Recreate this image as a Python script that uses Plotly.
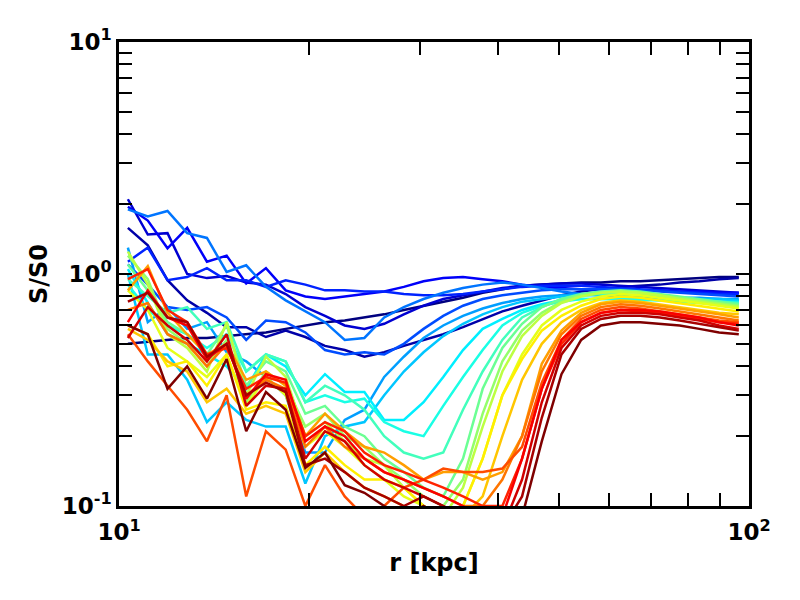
import plotly.graph_objects as go

# radius bins [kpc]
r_kpc = [10.33, 11.11, 11.94, 12.83, 13.79, 14.82, 15.92, 17.11, 18.39, 19.76,
         21.23, 22.82, 24.52, 26.36, 28.32, 30.44, 32.71, 35.16, 37.78, 40.60,
         43.63, 46.89, 50.39, 54.15, 58.20, 62.55, 67.21, 72.23, 77.62, 83.42,
         89.65, 96.34]

s00 = [0.50,0.51,0.52,0.53,0.53,0.54,0.55,0.56,0.58,0.60,0.62,0.63,0.65,0.67,0.70,0.73,0.76,0.79,0.83,0.86,0.89,0.90,0.91,0.92,0.92,0.93,0.93,0.94,0.95,0.96,0.97,0.97]
s01 = [1.58,1.33,0.94,0.77,0.68,0.59,0.59,0.535,0.57,0.535,0.49,0.47,0.44,0.46,0.49,0.52,0.55,0.59,0.64,0.69,0.73,0.77,0.81,0.84,0.86,0.88,0.89,0.90,0.92,0.93,0.95,0.96]
s02 = [2.10,1.48,1.50,1.00,0.96,0.98,0.92,0.90,0.82,0.72,0.66,0.60,0.58,0.61,0.67,0.73,0.78,0.81,0.84,0.87,0.89,0.90,0.91,0.91,0.90,0.89,0.88,0.87,0.86,0.85,0.84,0.83]
s03 = [1.95,1.70,1.29,1.58,1.13,1.20,0.91,1.06,0.85,0.80,0.78,0.80,0.82,0.84,0.88,0.93,0.96,0.97,0.95,0.93,0.90,0.88,0.87,0.86,0.86,0.85,0.85,0.85,0.84,0.84,0.83,0.83]
s04 = [1.13,1.30,0.94,0.97,1.06,0.94,0.94,0.88,0.94,0.90,0.85,0.85,0.84,0.84,0.82,0.81,0.81,0.82,0.84,0.86,0.88,0.89,0.89,0.89,0.88,0.87,0.86,0.85,0.84,0.83,0.82,0.82]
s05 = [1.10,0.90,0.72,0.70,0.72,0.65,0.52,0.63,0.62,0.56,0.47,0.45,0.46,0.45,0.50,0.58,0.66,0.73,0.78,0.81,0.83,0.85,0.86,0.86,0.86,0.86,0.85,0.84,0.83,0.82,0.81,0.80]
s06 = [1.90,1.77,1.87,1.50,1.43,1.02,1.09,0.88,0.77,0.69,0.62,0.52,0.53,0.65,0.72,0.78,0.83,0.87,0.90,0.92,0.90,0.87,0.84,0.82,0.81,0.80,0.80,0.79,0.79,0.78,0.78,0.77]
s07 = [1.30,0.62,0.72,0.58,0.62,0.46,0.42,0.36,0.30,0.17,0.17,0.235,0.26,0.36,0.44,0.53,0.60,0.66,0.71,0.75,0.78,0.80,0.81,0.82,0.82,0.81,0.81,0.80,0.79,0.79,0.78,0.78]
s08 = [1.00,0.45,0.45,0.35,0.23,0.28,0.235,0.22,0.22,0.125,0.20,0.22,0.23,0.30,0.38,0.46,0.54,0.61,0.67,0.72,0.76,0.78,0.80,0.81,0.81,0.81,0.80,0.79,0.79,0.78,0.78,0.77]
s09 = [1.05,0.75,0.55,0.50,0.45,0.40,0.32,0.45,0.40,0.30,0.37,0.31,0.31,0.235,0.235,0.28,0.36,0.47,0.58,0.64,0.70,0.74,0.77,0.78,0.78,0.78,0.78,0.77,0.77,0.76,0.76,0.76]
s10 = [0.90,0.70,0.60,0.55,0.48,0.55,0.38,0.45,0.42,0.28,0.30,0.28,0.29,0.23,0.21,0.20,0.27,0.36,0.47,0.60,0.68,0.73,0.76,0.78,0.78,0.78,0.77,0.77,0.76,0.75,0.75,0.74]
s11 = [0.95,0.80,0.68,0.72,0.58,0.62,0.38,0.45,0.42,0.28,0.33,0.30,0.26,0.20,0.17,0.16,0.17,0.26,0.38,0.52,0.65,0.72,0.78,0.81,0.82,0.82,0.81,0.80,0.79,0.77,0.76,0.75]
s12 = [1.10,0.85,0.62,0.55,0.45,0.60,0.33,0.42,0.38,0.25,0.27,0.22,0.20,0.16,0.14,0.12,0.11,0.16,0.32,0.48,0.61,0.72,0.78,0.82,0.84,0.85,0.84,0.82,0.80,0.78,0.76,0.74]
s13 = [1.20,0.95,0.58,0.50,0.40,0.52,0.28,0.38,0.33,0.22,0.25,0.20,0.18,0.15,0.13,0.11,0.10,0.13,0.25,0.42,0.57,0.68,0.76,0.81,0.83,0.84,0.83,0.81,0.79,0.77,0.75,0.73]
s14 = [1.25,0.90,0.55,0.48,0.38,0.62,0.30,0.44,0.36,0.20,0.23,0.19,0.16,0.15,0.12,0.10,0.09,0.12,0.22,0.38,0.54,0.66,0.75,0.80,0.83,0.84,0.83,0.81,0.78,0.76,0.74,0.72]
s15 = [0.85,0.70,0.48,0.42,0.36,0.45,0.27,0.36,0.30,0.18,0.21,0.18,0.15,0.13,0.11,0.10,0.09,0.10,0.16,0.30,0.45,0.60,0.70,0.76,0.80,0.82,0.81,0.79,0.77,0.75,0.73,0.71]
s16 = [0.60,0.55,0.40,0.42,0.33,0.45,0.26,0.28,0.27,0.15,0.18,0.15,0.13,0.13,0.12,0.10,0.09,0.10,0.16,0.30,0.43,0.57,0.66,0.73,0.78,0.80,0.79,0.77,0.75,0.73,0.71,0.69]
s17 = [0.58,0.52,0.42,0.38,0.28,0.32,0.25,0.27,0.25,0.14,0.17,0.14,0.12,0.11,0.10,0.09,0.08,0.09,0.11,0.20,0.35,0.50,0.62,0.70,0.75,0.77,0.76,0.74,0.72,0.70,0.68,0.67]
s18 = [0.85,1.08,0.68,0.55,0.45,0.50,0.35,0.38,0.33,0.20,0.25,0.21,0.18,0.17,0.15,0.13,0.14,0.14,0.13,0.14,0.20,0.41,0.57,0.68,0.74,0.76,0.75,0.73,0.71,0.69,0.67,0.65]
s19 = [0.70,0.75,0.55,0.50,0.40,0.50,0.30,0.35,0.32,0.18,0.22,0.18,0.16,0.14,0.13,0.12,0.11,0.10,0.10,0.13,0.20,0.38,0.55,0.66,0.72,0.74,0.73,0.71,0.69,0.67,0.65,0.63]
s20 = [0.55,0.42,0.33,0.26,0.19,0.30,0.11,0.21,0.175,0.10,0.15,0.11,0.09,0.10,0.12,0.13,0.145,0.14,0.14,0.145,0.18,0.34,0.52,0.64,0.70,0.72,0.71,0.69,0.67,0.65,0.63,0.62]
s21 = [0.95,1.05,0.70,0.62,0.45,0.48,0.32,0.36,0.34,0.20,0.23,0.21,0.17,0.15,0.14,0.13,0.12,0.11,0.10,0.10,0.16,0.32,0.50,0.62,0.68,0.70,0.69,0.68,0.66,0.64,0.62,0.61]
s22 = [0.62,0.85,0.65,0.60,0.43,0.50,0.29,0.37,0.35,0.19,0.22,0.20,0.16,0.14,0.13,0.12,0.11,0.10,0.09,0.09,0.16,0.32,0.52,0.62,0.68,0.70,0.70,0.69,0.67,0.65,0.62,0.60]
s23 = [0.53,0.72,0.60,0.52,0.42,0.55,0.27,0.33,0.32,0.16,0.21,0.19,0.15,0.13,0.12,0.11,0.10,0.09,0.08,0.08,0.13,0.28,0.48,0.60,0.66,0.68,0.68,0.67,0.65,0.63,0.60,0.58]
s24 = [0.76,0.83,0.65,0.62,0.44,0.50,0.30,0.34,0.31,0.15,0.16,0.14,0.12,0.11,0.10,0.11,0.10,0.09,0.08,0.08,0.11,0.24,0.45,0.58,0.64,0.66,0.66,0.65,0.63,0.61,0.59,0.57]
s25 = [0.60,0.55,0.32,0.40,0.29,0.43,0.21,0.31,0.26,0.146,0.17,0.123,0.114,0.10,0.09,0.10,0.09,0.08,0.07,0.07,0.09,0.19,0.37,0.52,0.60,0.62,0.62,0.61,0.60,0.58,0.56,0.55]

series = [s00, s01, s02, s03, s04, s05, s06, s07, s08, s09, s10, s11, s12,
          s13, s14, s15, s16, s17, s18, s19, s20, s21, s22, s23, s24, s25]

x_tickvals = [10, 100]
x_ticktext = ["10<sup>1</sup>", "10<sup>2</sup>"]
y_tickvals = [0.1, 1, 10]
y_ticktext = ["10<sup>-1</sup>", "10<sup>0</sup>", "10<sup>1</sup>"]


def jet(t):
    def c(v):
        return max(0.0, min(1.0, v))
    r = c(1.5 - abs(4 * t - 3))
    g = c(1.5 - abs(4 * t - 2))
    b = c(1.5 - abs(4 * t - 1))
    return f"rgb({int(r*255)},{int(g*255)},{int(b*255)})"


fig = go.Figure()
n = len(series)
for k, s in enumerate(series):
    fig.add_trace(go.Scatter(x=r_kpc, y=s, mode="lines",
                             line=dict(color=jet(k / (n - 1)), width=2.5),
                             showlegend=False, hoverinfo="skip"))

tick_font = dict(family="DejaVu Sans", size=23, color="black", weight="bold")
title_font = dict(family="DejaVu Sans", size=24, color="black", weight="bold")
axis_common = dict(
    type="log", showgrid=False, zeroline=False,
    showline=True, linecolor="black", linewidth=2.5, mirror="ticks",
    ticks="inside", ticklen=13, tickwidth=2, tickcolor="black",
    tickfont=tick_font,
    minor=dict(ticks="inside", ticklen=13, tickwidth=2, tickcolor="black",
               dtick="D1", showgrid=False),
)

fig.update_xaxes(**axis_common, range=[1, 2], tickvals=x_tickvals,
                 ticktext=x_ticktext, ticklabelstandoff=4,
                 title=dict(text="r [kpc]", font=title_font, standoff=10))
fig.update_yaxes(**axis_common, range=[-1, 1], tickvals=y_tickvals,
                 ticktext=y_ticktext,
                 title=dict(text="S/S0", font=title_font, standoff=8))

fig.update_layout(
    width=800, height=600,
    margin=dict(l=119, r=51, t=42, b=94, autoexpand=False),
    paper_bgcolor="white", plot_bgcolor="white",
)

fig.write_html("out.html")
